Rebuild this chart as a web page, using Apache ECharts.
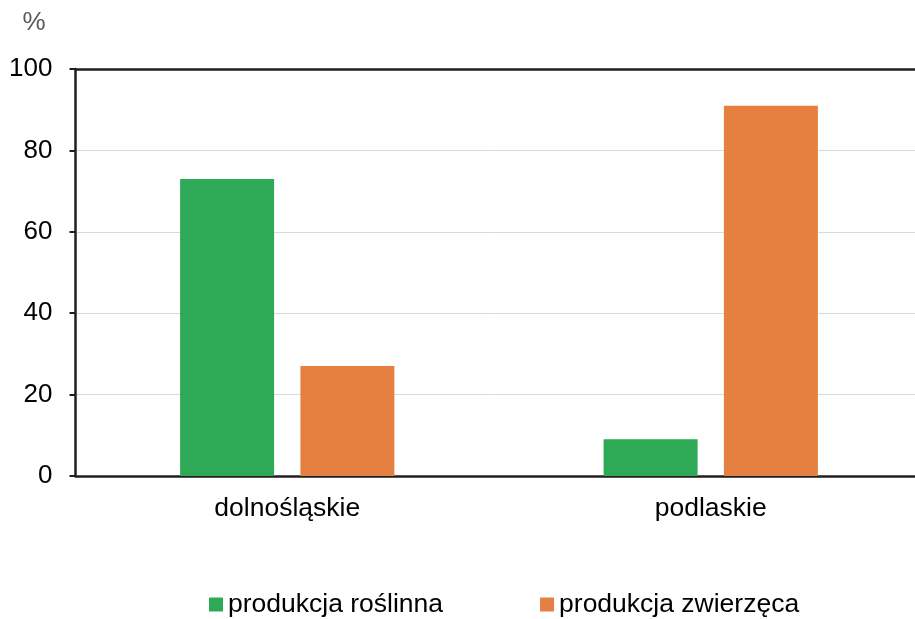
<!DOCTYPE html>
<html><head><meta charset="utf-8">
<script src="https://cdn.jsdelivr.net/npm/echarts@6/dist/echarts.min.js"></script>
<style>html,body{margin:0;padding:0;background:#fff}#c{width:915px;height:619px}</style>
</head><body><div id="c"></div>
<script>
const categories = ['dolnośląskie', 'podlaskie'];
const roslinna = [73, 9];
const zwierzeca = [27, 91];
const seriesNames = ['produkcja roślinna', 'produkcja zwierzęca'];
const yTicks = [0, 20, 40, 60, 80, 100];

const chart = echarts.init(document.getElementById('c'));
const font = 'Liberation Sans, Arial, sans-serif';
chart.setOption({
  animation: false,
  grid: {left: 75.5, width: 847, top: 69, height: 407, containLabel: false, outerBoundsMode: 'none'},
  legend: {
    top: 586, left: 204, itemGap: 97, itemWidth: 14, itemHeight: 14,
    icon: 'rect', textStyle: {fontFamily: font, fontSize: 26.5, color: '#000'},
    data: seriesNames
  },
  xAxis: [{
    type: 'category', data: categories,
    axisLine: {lineStyle: {color: '#231f20', width: 2.5}},
    axisTick: {show: false},
    axisLabel: {fontFamily: font, fontSize: 26.5, color: '#000', margin: 19}
  }, {
    type: 'category', data: categories, position: 'top',
    axisLine: {lineStyle: {color: '#231f20', width: 2.5}},
    axisTick: {show: false}, axisLabel: {show: false}
  }],
  yAxis: {
    type: 'value', min: 0, max: 100, interval: 20,
    name: '%', nameGap: 33, nameTextStyle: {fontFamily: font, fontSize: 26, color: '#595959', align: 'right', padding: [0, 30, 0, 0]},
    axisLine: {show: true, lineStyle: {color: '#231f20', width: 2.5}},
    axisTick: {show: true, length: 6, lineStyle: {color: '#231f20', width: 2}},
    axisLabel: {fontFamily: font, fontSize: 26, color: '#000', margin: 23,
      formatter: v => yTicks.includes(v) ? String(v) : ''},
    splitLine: {lineStyle: {color: '#d9d9d9', width: 1}}
  },
  series: [
    {name: seriesNames[0], type: 'bar', data: roslinna, itemStyle: {color: '#2eaa57'}, barGap: '28%', barCategoryGap: '49.4%'},
    {name: seriesNames[1], type: 'bar', data: zwierzeca, itemStyle: {color: '#e58040'}, barGap: '28%', barCategoryGap: '49.4%'}
  ]
});
</script></body></html>
